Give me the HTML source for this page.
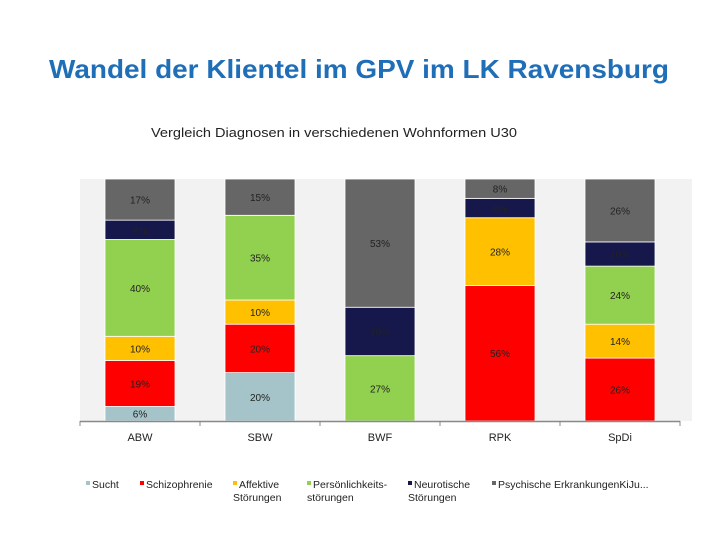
<!DOCTYPE html>
<html><head><meta charset="utf-8"><style>
body{margin:0;background:#fff;width:720px;height:540px;overflow:hidden;font-family:"Liberation Sans",sans-serif}
</style></head><body>
<svg width="720" height="540">
<text x="49" y="78" textLength="620" lengthAdjust="spacingAndGlyphs" font-size="26" font-weight="bold" fill="#1f6eb8">Wandel der Klientel im GPV im LK Ravensburg</text>
<text x="151" y="137" textLength="366" lengthAdjust="spacingAndGlyphs" font-size="13" fill="#222">Vergleich Diagnosen in verschiedenen Wohnformen U30</text>
<rect x="80" y="179" width="612" height="242" fill="#f2f2f2"/>
<g id="bars"></g>
<line x1="80" y1="421.5" x2="680" y2="421.5" stroke="#888" stroke-width="1.5"/>
<g id="ticks"></g>
<g id="legend"></g>
</svg>
<script>
const categories=["ABW","SBW","BWF","RPK","SpDi"];
const seriesNames=["Sucht","Schizophrenie","Affektive Störungen","Persönlichkeitsstörungen","Neurotische Störungen","Psychische ErkrankungenKiJu"];
const sucht=[6,20,0,0,0];
const schizo=[19,20,0,56,26];
const affektiv=[10,10,0,28,14];
const persoen=[40,35,27,0,24];
const neuro=[8,0,20,8,10];
const psych=[17,15,53,8,26];
const colors=["#a5c4c9","#ff0000","#ffc000","#92d050","#16174a","#666666"];
const series=[sucht,schizo,affektiv,persoen,neuro,psych];
const ns="http://www.w3.org/2000/svg";
const y0=421,h=242,x0=80,cw=120,bw=70;
const yS=v=>y0-v/100*h;
const xC=i=>x0+cw*i+cw/2;
const bars=document.getElementById('bars');
categories.forEach((c,i)=>{
  let cum=0;
  series.forEach((s,k)=>{
    const v=s[i]; if(!v) return;
    const r=document.createElementNS(ns,'rect');
    r.setAttribute('x',xC(i)-bw/2);r.setAttribute('width',bw);
    r.setAttribute('y',yS(cum+v));r.setAttribute('height',yS(cum)-yS(cum+v));
    r.setAttribute('fill',colors[k]);r.setAttribute('stroke','#fff');r.setAttribute('stroke-width','0.8');
    
    
    bars.appendChild(r);
    const t=document.createElementNS(ns,'text');
    t.setAttribute('x',xC(i));t.setAttribute('y',(yS(cum)+yS(cum+v))/2+4);
    t.setAttribute('text-anchor','middle');t.setAttribute('font-size','10');t.setAttribute('fill','#222');
    t.textContent=v+'%';
    
    
    bars.appendChild(t);
    cum+=v;
  });
  const l=document.createElementNS(ns,'text');
  l.setAttribute('x',xC(i));l.setAttribute('y',441);l.setAttribute('text-anchor','middle');
  l.setAttribute('font-size','11');l.setAttribute('fill','#222');l.textContent=c;
  
  
  document.getElementById('ticks').appendChild(l);
});
for(let i=0;i<=categories.length;i++){
  const tk=document.createElementNS(ns,'line');
  tk.setAttribute('x1',x0+cw*i);tk.setAttribute('x2',x0+cw*i);tk.setAttribute('y1',421);tk.setAttribute('y2',426);
  tk.setAttribute('stroke','#888');
  
  
  document.getElementById('ticks').appendChild(tk);
}
const leg=[[86,["Sucht"]],[140,["Schizophrenie"]],[233,["Affektive","Störungen"]],[307,["Persönlichkeits-","störungen"]],[408,["Neurotische","Störungen"]],[492,["Psychische ErkrankungenKiJu..."]]];
leg.forEach((L,k)=>{
  const g=document.createElementNS(ns,'g');
  
  
  const m=document.createElementNS(ns,'rect');
  m.setAttribute('x',L[0]);m.setAttribute('y',481);m.setAttribute('width',4);m.setAttribute('height',4);m.setAttribute('fill',colors[k]);
  g.appendChild(m);
  L[1].forEach((s,j)=>{
    const t=document.createElementNS(ns,'text');
    t.setAttribute('x',L[0]+(j?0:6));t.setAttribute('y',488+j*13);
    t.setAttribute('font-size','10.5');t.setAttribute('fill','#222');t.textContent=s;
    g.appendChild(t);
  });
  document.getElementById('legend').appendChild(g);
});
</script>
</body></html>
